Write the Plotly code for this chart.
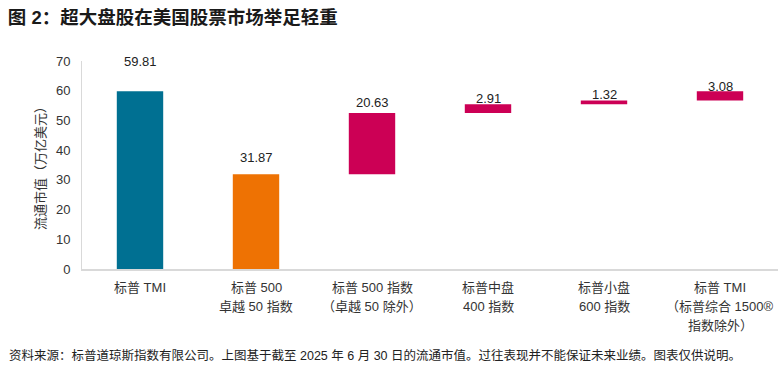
import plotly.graph_objects as go

categories = ["标普 TMI", "标普 500<br>卓越 50 指数", "标普 500 指数<br>（卓越 50 除外）",
              "标普中盘<br>400 指数", "标普小盘<br>600 指数", "标普 TMI<br>（标普综合 1500®<br>指数除外）"]
values = [59.81, 31.87, 20.63, 2.91, 1.32, 3.08]
kinds = ["total", "total", "delta", "delta", "delta", "delta"]
y_ticks = [0, 10, 20, 30, 40, 50, 60, 70]

colors = ["#007092", "#EE7203", "#CC0055", "#CC0055", "#CC0055", "#CC0055"]
label_gap_px = [30, 17, 11, 6, 6, 5]

# bases: totals start at 0, deltas stack on the previous running top
bases = []
running = 0.0
for k, v in zip(kinds, values):
    if k == "total":
        bases.append(0.0)
        running = v
    else:
        bases.append(running)
        running += v

FONT = "Liberation Sans, Arial, Noto Sans CJK SC, sans-serif"
L, R, T, B = 82, 4, 61, 106
PW, PH = 782 - L - R, 375 - T - B

fig = go.Figure()
fig.add_trace(go.Bar(
    x=list(range(len(categories))), y=values, base=bases,
    marker=dict(color=colors, line=dict(width=0)),
    width=0.4, hoverinfo="skip",
))

for i, (v, b) in enumerate(zip(values, bases)):
    fig.add_annotation(x=i, y=b + v, text=f"{v:.2f}", showarrow=False,
                       yanchor="middle", yshift=label_gap_px[i],
                       font=dict(family=FONT, size=13, color="#222222"))

# category labels, one annotation per line for Excel-like line spacing
for i, c in enumerate(categories):
    for j, line in enumerate(c.split("<br>")):
        fig.add_annotation(x=i, y=0, yref="paper", text=line, showarrow=False,
                           xanchor="center", yanchor="middle",
                           yshift=-(18 + 19 * j),
                           font=dict(family=FONT, size=13, color="#333333"))

fig.update_layout(
    width=782, height=375,
    margin=dict(l=L, r=R, t=T, b=B, autoexpand=False),
    paper_bgcolor="white", plot_bgcolor="white",
    showlegend=False,
    font=dict(family=FONT, size=13, color="#333333"),
    title=dict(text="<b>图 2：超大盘股在美国股票市场举足轻重</b>",
               x=0.01, xanchor="left", y=0.952, yanchor="middle",
               font=dict(family=FONT, size=18.5, color="#1a1a1a")),
    xaxis=dict(range=[-0.5, 5.5], showline=True, linecolor="#D9D9D9",
               linewidth=1.5, ticks="", showticklabels=False, showgrid=False,
               zeroline=False, automargin=False),
    yaxis=dict(range=[0, 70], tickvals=y_ticks, showline=True, linecolor="#D9D9D9",
               linewidth=1, ticks="", showgrid=False, zeroline=False,
               ticklabelstandoff=8, automargin=False,
               tickfont=dict(size=13, color="#333333")),
)

fig.add_annotation(text="流通市值（万亿美元）", textangle=-90,
                   xref="paper", yref="paper", x=-(82 - 40) / PW, y=0.5,
                   xanchor="center", yanchor="middle", showarrow=False,
                   font=dict(family=FONT, size=13, color="#333333"))

fig.add_annotation(text="资料来源：标普道琼斯指数有限公司。上图基于截至 2025 年 6 月 30 日的流通市值。过往表现并不能保证未来业绩。图表仅供说明。",
                   xref="paper", yref="paper", x=-(L - 7) / PW, y=-(355 - 269) / PH,
                   xanchor="left", yanchor="middle", showarrow=False,
                   font=dict(family=FONT, size=12.5, color="#222222"))

fig.write_html("out.html", config={"displayModeBar": False},
               post_script="document.body.style.margin='0';document.body.style.overflow='hidden';")
